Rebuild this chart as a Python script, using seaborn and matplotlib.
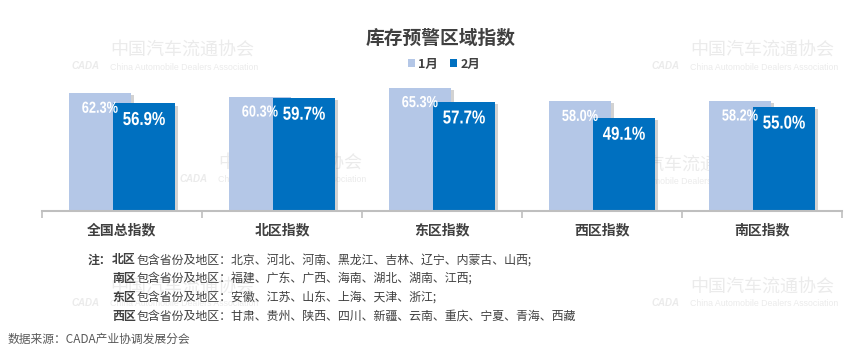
import matplotlib
matplotlib.use("Agg")
import matplotlib.pyplot as plt
import matplotlib.patheffects as pe
from matplotlib.transforms import Affine2D
import seaborn as sns
import pandas as pd

# ---------------- data ----------------
categories = ['全国总指数', '北区指数', '东区指数', '西区指数', '南区指数']
months = ['1月', '2月']
jan = [62.3, 60.3, 65.3, 58.0, 58.2]
feb = [56.9, 59.7, 57.7, 49.1, 55.0]

note_heads = ['北区', '南区', '东区', '西区']
note_bodies = ['包含省份及地区：北京、河北、河南、黑龙江、吉林、辽宁、内蒙古、山西;',
               '包含省份及地区：福建、广东、广西、海南、湖北、湖南、江西;',
               '包含省份及地区：安徽、江苏、山东、上海、天津、浙江;',
               '包含省份及地区：甘肃、贵州、陕西、四川、新疆、云南、重庆、宁夏、青海、西藏']

df = pd.DataFrame({
    'cat': categories * 2,
    'month': [months[0]] * len(categories) + [months[1]] * len(categories),
    'val': jan + feb,
})

# ---------------- style ----------------
sns.set_theme(style='white')
CJK = ['Noto Sans CJK SC', 'DejaVu Sans']
plt.rcParams['font.family'] = CJK


class Condense(pe.AbstractPathEffect):
    """Draw text horizontally squeezed around its centre (narrow bold look)."""

    def __init__(self, sx):
        super().__init__()
        self.sx = sx

    def draw_path(self, renderer, gc, tpath, affine, rgbFace=None):
        ext = tpath.get_extents(affine)
        cx = (ext.x0 + ext.x1) / 2
        aff = affine + Affine2D().translate(-cx, 0).scale(self.sx, 1).translate(cx, 0)
        renderer.draw_path(gc, tpath, aff, rgbFace)


C1 = '#B4C7E7'
C2 = '#0070C0'
DARK = '#404040'

W, H = 865, 354
fig = plt.figure(figsize=(W / 100, H / 100), dpi=100)
fig.patch.set_facecolor('white')

x0, x1 = 42, 842
base_y = 211
ymax = 70
px_per = 1.89
ax = fig.add_axes([x0 / W, (H - base_y) / H, (x1 - x0) / W, ymax * px_per / H])
ax.patch.set_alpha(0)

sns.barplot(data=df, x='cat', y='val', hue='month', order=categories, hue_order=months,
            palette=[C1, C2], width=0.55, gap=-0.409, dodge=True, saturation=1,
            errorbar=None, legend=True, ax=ax, linewidth=0)

shadow = [pe.SimplePatchShadow(offset=(2, -1.5), shadow_rgbFace='#808080', alpha=0.35), pe.Normal()]
for p in ax.patches:
    p.set_path_effects(shadow)

ax.set_xlim(-0.5, len(categories) - 0.5)
ax.set_ylim(0, ymax)
ax.set_yticks([])
ax.set_ylabel('')
ax.set_xlabel('')
for s in ['top', 'right', 'left']:
    ax.spines[s].set_visible(False)
ax.spines['bottom'].set_color('#BFBFBF')
ax.spines['bottom'].set_linewidth(1.5)
ax.tick_params(axis='x', which='major', length=0, pad=9)
ax.set_xticks(range(len(categories)))
ax.set_xticklabels(categories, fontsize=10, fontweight='bold', color=DARK)
ax.set_xticks([i - 0.5 for i in range(len(categories) + 1)], minor=True)
ax.tick_params(axis='x', which='minor', length=5, width=1.2, color='#BFBFBF', direction='out', bottom=True)

# value labels
for cont, size, dy in zip(ax.containers, [11.5, 13.5], [-15, -17]):
    vals = cont.datavalues
    for bar, v in zip(cont, vals):
        cx = bar.get_x() + bar.get_width() / 2
        ax.annotate(f'{v:.1f}%', xy=(cx, v), xytext=(0, dy), textcoords='offset pixels',
                    ha='center', va='center', color='white', fontsize=size,
                    fontweight='bold', family=['Liberation Sans', 'DejaVu Sans'], zorder=10,
                    path_effects=[Condense(0.8)])

# legend
leg = ax.get_legend()
handles = leg.legend_handles
leg.remove()
fig.legend(handles, months, loc='center', bbox_to_anchor=(444 / W, 1 - 64 / H), ncol=2,
           frameon=False, handlelength=0.55, handleheight=0.55, handletextpad=0.25,
           columnspacing=1.0, prop={'family': CJK, 'size': 9, 'weight': 'bold'},
           labelcolor=DARK)

# title
fig.text(441 / W, 1 - 38 / H, '库存预警区域指数', ha='center', va='center',
         fontsize=13.5, fontweight='bold', color=DARK)

# watermarks (faint, behind everything, as in the reference)
WM = '#EBEBEB'
for (wx, wy) in [(110, 50), (690, 50), (218, 163), (610, 165), (110, 287), (690, 287)]:
    fig.text(wx / W, 1 - wy / H, '中国汽车流通协会', ha='left', va='center', fontsize=13,
             color=WM, zorder=-2)
    fig.text(wx / W, 1 - (wy + 17) / H, 'China Automobile Dealers Association', ha='left',
             va='center', fontsize=6.3, color=WM, family=['Liberation Sans', 'DejaVu Sans'],
             zorder=-2)
    fig.text((wx - 38) / W, 1 - (wy + 16) / H, 'CADA', ha='left', va='center', fontsize=7,
             color=WM, style='italic', fontweight='bold', family=['Liberation Sans'],
             zorder=-2)

# notes
note_y = [260, 278.5, 297.5, 316.5]
NOTE_FS = 8.6
fig.text(88 / W, 1 - note_y[0] / H, '注：', ha='left', va='center', fontsize=NOTE_FS,
         fontweight='bold', color=DARK)
for head, body, yy in zip(note_heads, note_bodies, note_y):
    fig.text(112 / W, 1 - yy / H, head, ha='left', va='center', fontsize=NOTE_FS,
             fontweight='bold', color=DARK)
    fig.text(136.5 / W, 1 - yy / H, body, ha='left', va='center', fontsize=NOTE_FS, color=DARK)

# source
fig.text(8 / W, 1 - 339 / H, '数据来源：CADA产业协调发展分会', ha='left', va='center',
         fontsize=8.5, color='#595959')

fig.savefig('out.png', dpi=100, facecolor='white')
